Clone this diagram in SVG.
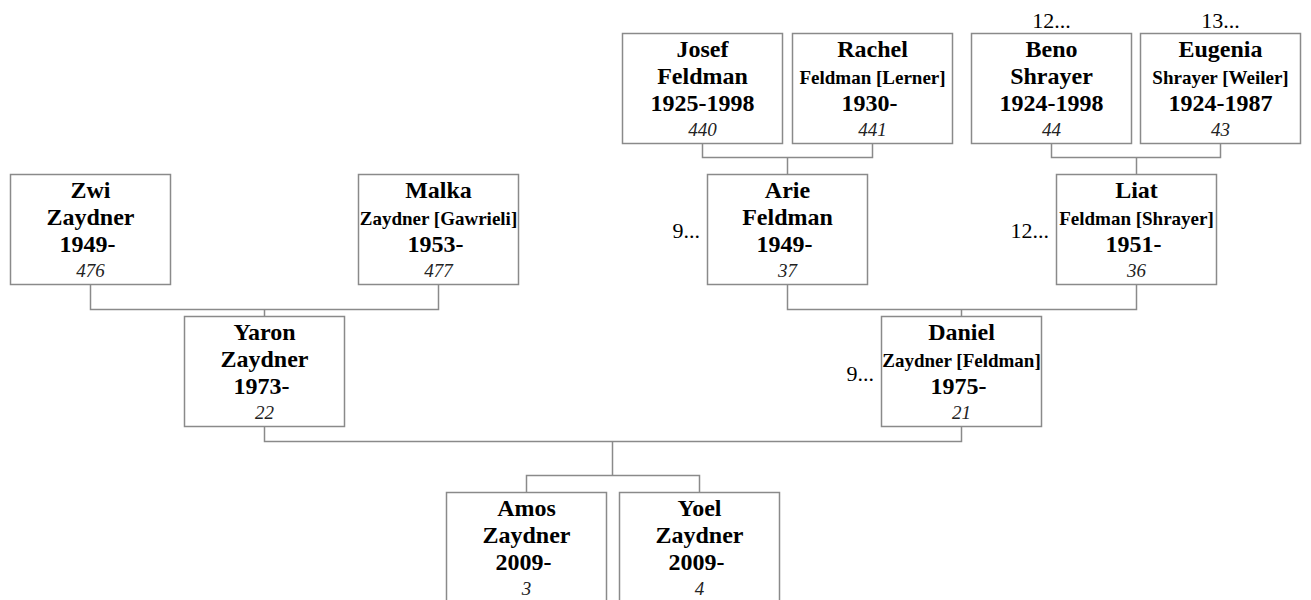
<svg xmlns="http://www.w3.org/2000/svg" width="1311" height="600" viewBox="0 0 1311 600">
<style>
.box{fill:#fff;stroke:#8a8a8a;stroke-width:1.5}
.con path{fill:none;stroke:#8a8a8a;stroke-width:1.5}
text{font-family:"Liberation Serif","Times New Roman",serif;fill:#000;text-anchor:middle}
.n{font-size:24px;font-weight:bold}
.s{font-size:19px;font-weight:bold}
.id{font-size:19px;font-style:italic;fill:#222}
.m{font-size:22px}
.me{font-size:22px;text-anchor:end}
</style>
<rect width="1311" height="600" fill="#fff"/>
<g class="con">
<path d="M90.5,284.5V309.5H438.5V284.5M264.5,309.5V316.5"/>
<path d="M702.5,143.5V157.5H872.5V143.5M787.5,157.5V174.5"/>
<path d="M1051.5,143.5V157.5H1220.5V143.5M1136.5,157.5V174.5"/>
<path d="M787.5,284.5V309.5H1136.5V284.5M961.5,309.5V316.5"/>
<path d="M264.5,426.5V441.5H961.5V426.5M612.5,441.5V475.5M526.5,492.5V475.5H699.5V492.5"/>
</g>
<g id="josef"><rect class="box" x="622.5" y="33.5" width="160" height="110"/>
<text class="n" x="702.5" y="57">Josef</text><text class="n" x="702.5" y="84">Feldman</text><text class="n" x="702.5" y="111">1925-1998</text><text class="id" x="702.5" y="136">440</text></g>
<g id="rachel"><rect class="box" x="792.5" y="33.5" width="160" height="110"/>
<text class="n" x="872.5" y="57">Rachel</text><text class="s" x="872.5" y="84">Feldman [Lerner]</text><text class="n" x="869.5" y="111">1930-</text><text class="id" x="872.5" y="136">441</text></g>
<g id="beno"><rect class="box" x="971.5" y="33.5" width="160" height="110"/>
<text class="m" x="1051.5" y="28">12...</text>
<text class="n" x="1051.5" y="57">Beno</text><text class="n" x="1051.5" y="84">Shrayer</text><text class="n" x="1051.5" y="111">1924-1998</text><text class="id" x="1051.5" y="136">44</text></g>
<g id="eugenia"><rect class="box" x="1140.5" y="33.5" width="160" height="110"/>
<text class="m" x="1220.5" y="28">13...</text>
<text class="n" x="1220.5" y="57">Eugenia</text><text class="s" x="1220.5" y="84">Shrayer [Weiler]</text><text class="n" x="1220.5" y="111">1924-1987</text><text class="id" x="1220.5" y="136">43</text></g>
<g id="zwi"><rect class="box" x="10.5" y="174.5" width="160" height="110"/>
<text class="n" x="90.5" y="198">Zwi</text><text class="n" x="90.5" y="225">Zaydner</text><text class="n" x="87.5" y="252">1949-</text><text class="id" x="90.5" y="277">476</text></g>
<g id="malka"><rect class="box" x="358.5" y="174.5" width="160" height="110"/>
<text class="n" x="438.5" y="198">Malka</text><text class="s" x="438.5" y="225">Zaydner [Gawrieli]</text><text class="n" x="435.5" y="252">1953-</text><text class="id" x="438.5" y="277">477</text></g>
<g id="arie"><rect class="box" x="707.5" y="174.5" width="160" height="110"/>
<text class="me" x="700" y="238">9...</text>
<text class="n" x="787.5" y="198">Arie</text><text class="n" x="787.5" y="225">Feldman</text><text class="n" x="784.5" y="252">1949-</text><text class="id" x="787.5" y="277">37</text></g>
<g id="liat"><rect class="box" x="1056.5" y="174.5" width="160" height="110"/>
<text class="me" x="1049" y="238">12...</text>
<text class="n" x="1136.5" y="198">Liat</text><text class="s" x="1136.5" y="225">Feldman [Shrayer]</text><text class="n" x="1133.5" y="252">1951-</text><text class="id" x="1136.5" y="277">36</text></g>
<g id="yaron"><rect class="box" x="184.5" y="316.5" width="160" height="110"/>
<text class="n" x="264.5" y="340">Yaron</text><text class="n" x="264.5" y="367">Zaydner</text><text class="n" x="261.5" y="394">1973-</text><text class="id" x="264.5" y="419">22</text></g>
<g id="daniel"><rect class="box" x="881.5" y="316.5" width="160" height="110"/>
<text class="me" x="874" y="381">9...</text>
<text class="n" x="961.5" y="340">Daniel</text><text class="s" x="961.5" y="367">Zaydner [Feldman]</text><text class="n" x="958.5" y="394">1975-</text><text class="id" x="961.5" y="419">21</text></g>
<g id="amos"><rect class="box" x="446.5" y="492.5" width="160" height="110"/>
<text class="n" x="526.5" y="516">Amos</text><text class="n" x="526.5" y="543">Zaydner</text><text class="n" x="523.5" y="570">2009-</text><text class="id" x="526.5" y="595">3</text></g>
<g id="yoel"><rect class="box" x="619.5" y="492.5" width="160" height="110"/>
<text class="n" x="699.5" y="516">Yoel</text><text class="n" x="699.5" y="543">Zaydner</text><text class="n" x="696.5" y="570">2009-</text><text class="id" x="699.5" y="595">4</text></g>
</svg>
